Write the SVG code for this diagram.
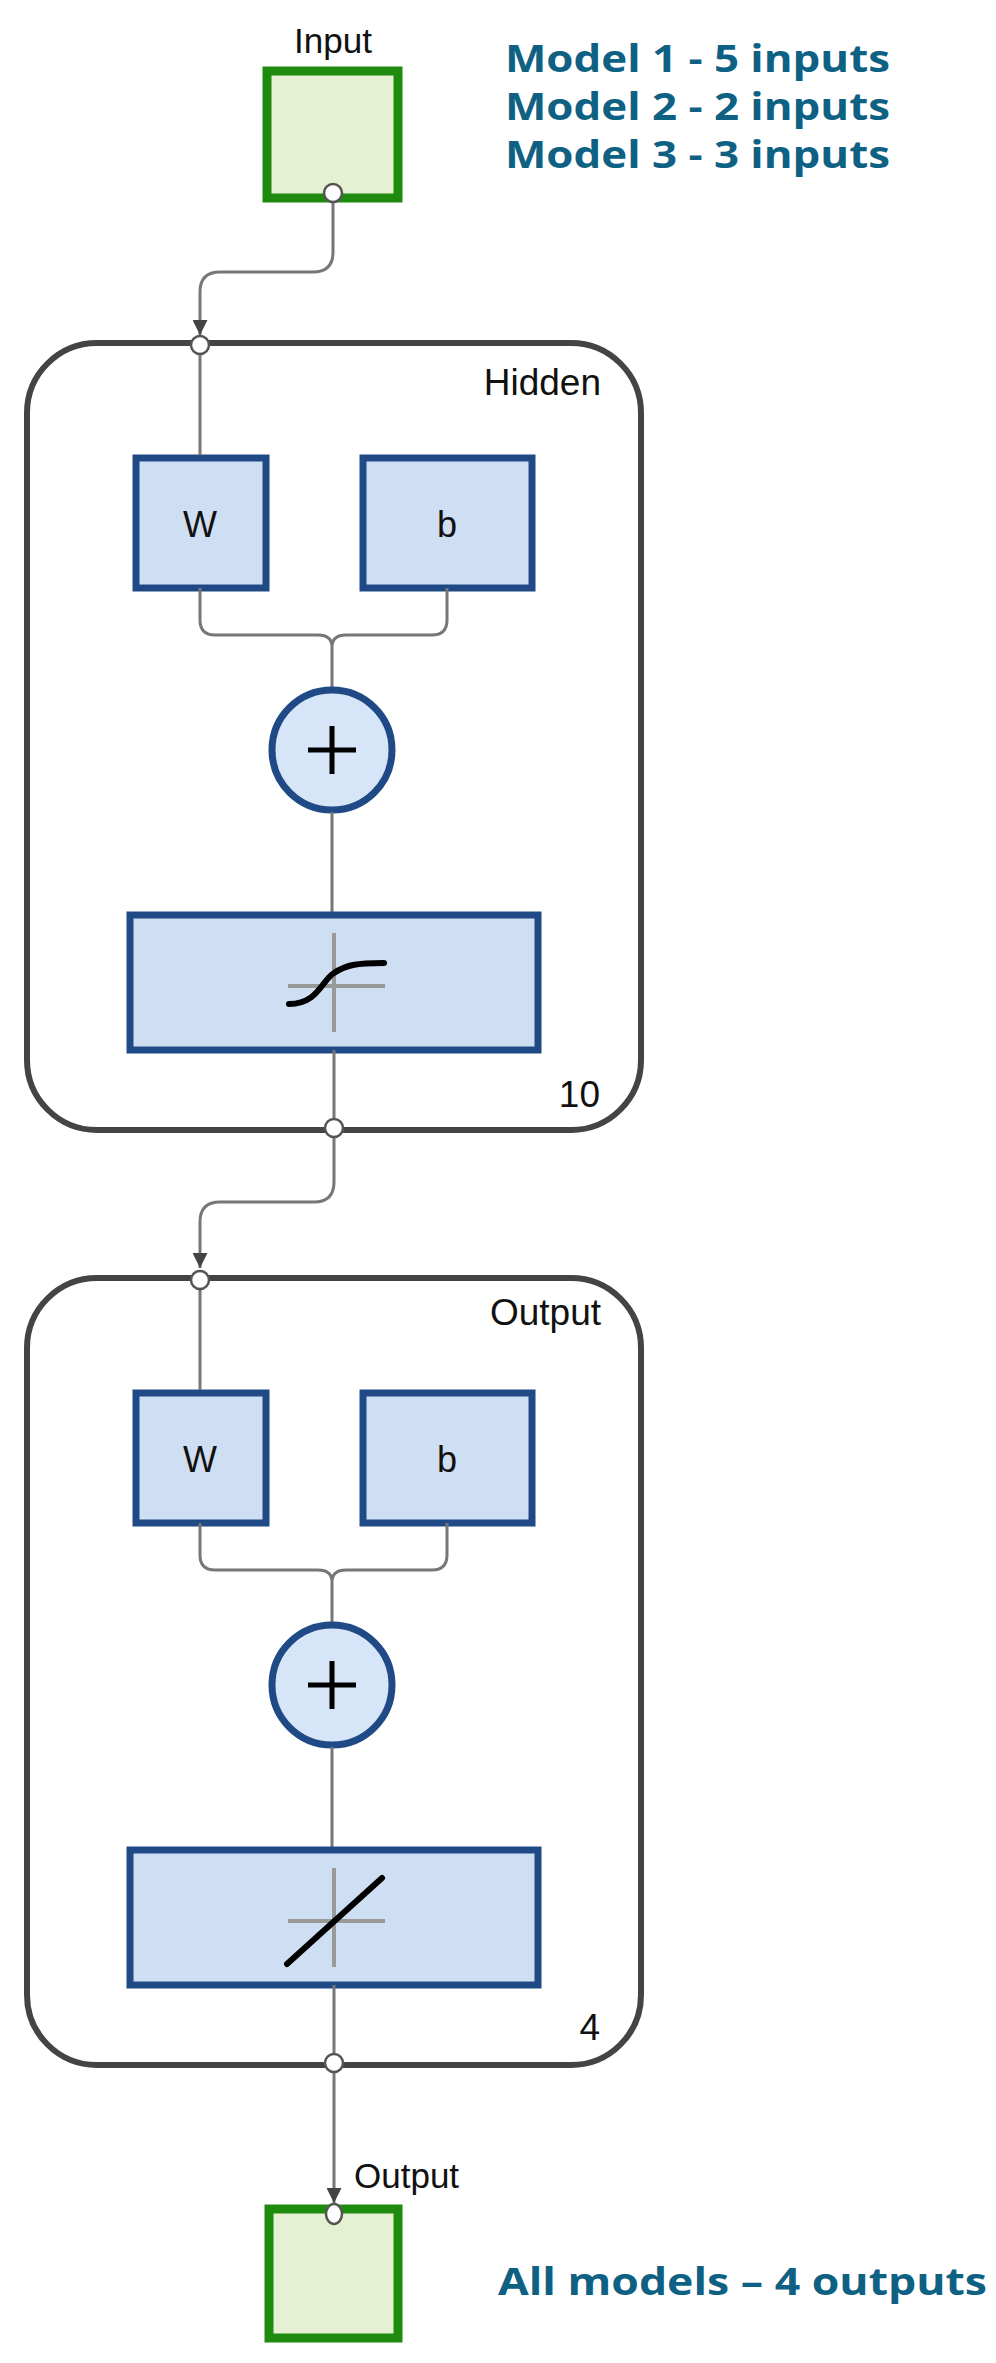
<svg xmlns="http://www.w3.org/2000/svg" width="996" height="2363" viewBox="0 0 996 2363">
<defs>
<style>
.lbl{font-family:"Liberation Sans",Arial,sans-serif;fill:#111}
.note{font-family:"Open Sans","Liberation Sans",sans-serif;font-weight:bold;fill:#0f6184}
.term{fill:#e6f1d4;stroke:#1e8a0e;stroke-width:9}
.layer{fill:#fff;stroke:#444;stroke-width:6}
.blk{fill:#cfdff3;stroke:#1f4a86;stroke-width:7}
.wire{fill:none;stroke:#777;stroke-width:3}
.port{fill:#fff;stroke:#555;stroke-width:2.5}
.axis{stroke:#999;stroke-width:4}
.fn{fill:none;stroke:#000;stroke-width:6;stroke-linecap:round}
</style>
<marker id="ah" viewBox="0 0 10 10" refX="10" refY="5" markerWidth="5" markerHeight="5" orient="auto" markerUnits="strokeWidth">
<path d="M0,0 L10,5 L0,10 z" fill="#444"/>
</marker>
<g id="layerTpl">
<rect class="layer" x="27" y="0" width="614" height="787" rx="70"/>
<rect class="blk" x="136" y="115" width="130" height="130"/>
<rect class="blk" x="363" y="115" width="169" height="130"/>
<text class="lbl" x="200" y="194" font-size="36" text-anchor="middle">W</text>
<text class="lbl" x="447" y="194" font-size="36" text-anchor="middle">b</text>
<path class="wire" d="M200,245 V277 Q200,292 215,292 H318 Q332,292 332,304 Q332,292 346,292 H432 Q447,292 447,277 V245"/>
<path class="wire" d="M200,10 V112"/>
<path class="wire" d="M332,304 V345"/>
<circle cx="332" cy="407" r="60" fill="#d6e5f7" stroke="#1f4a86" stroke-width="7"/>
<path d="M308,407 H356 M332,383 V431" stroke="#000" stroke-width="5"/>
<path class="wire" d="M332,469 V572"/>
<rect class="blk" x="130" y="572" width="408" height="135"/>
<path class="wire" d="M334,707 V775"/>
</g>
</defs>
<rect width="996" height="2363" fill="#fff"/>

<g id="connectors">
<path class="wire" d="M333,202 V252 Q333,272 313,272 H220 Q200,272 200,292 V335" marker-end="url(#ah)"/>
<path class="wire" d="M334,1138 V1182 Q334,1202 314,1202 H220 Q200,1202 200,1222 V1268" marker-end="url(#ah)"/>
<path class="wire" d="M334,2070 V2203" marker-end="url(#ah)"/>
</g>

<g id="input">
<text class="lbl" x="333" y="53" font-size="35" text-anchor="middle">Input</text>
<rect class="term" x="267" y="71" width="131" height="127"/>
<circle class="port" cx="333" cy="193" r="9"/>
</g>

<g id="hidden" transform="translate(0,343)">
<use href="#layerTpl"/>
<text class="lbl" x="601" y="52" font-size="37" text-anchor="end">Hidden</text>
<text class="lbl" x="600" y="764" font-size="37" text-anchor="end">10</text>
<line class="axis" x1="334" y1="590" x2="334" y2="689"/>
<line class="axis" x1="288" y1="643" x2="385" y2="643"/>
<path class="fn" d="M289,661 C318,661 322,637 334,630 C346,622 356,620 384,620"/>
<circle class="port" cx="200" cy="2" r="9"/>
<circle class="port" cx="334" cy="785" r="9"/>
</g>

<g id="output" transform="translate(0,1278)">
<use href="#layerTpl"/>
<text class="lbl" x="601" y="47" font-size="37" text-anchor="end">Output</text>
<text class="lbl" x="600" y="762" font-size="37" text-anchor="end">4</text>
<line class="axis" x1="334" y1="590" x2="334" y2="689"/>
<line class="axis" x1="288" y1="643" x2="385" y2="643"/>
<line class="fn" x1="287" y1="686" x2="382" y2="600"/>
<circle class="port" cx="200" cy="2" r="9"/>
<circle class="port" cx="334" cy="785" r="9"/>
</g>

<g id="outterm">
<text class="lbl" x="354" y="2188" font-size="35">Output</text>
<rect class="term" x="269" y="2209" width="129" height="129"/>
<ellipse class="port" cx="334" cy="2214" rx="8" ry="10"/>
</g>

<g id="notes">
<text class="note" x="505" y="72" font-size="38" textLength="385" lengthAdjust="spacingAndGlyphs">Model 1 - 5 inputs</text>
<text class="note" x="505" y="120" font-size="38" textLength="385" lengthAdjust="spacingAndGlyphs">Model 2 - 2 inputs</text>
<text class="note" x="505" y="168" font-size="38" textLength="385" lengthAdjust="spacingAndGlyphs">Model 3 - 3 inputs</text>
<text class="note" x="498" y="2295" font-size="38" textLength="489" lengthAdjust="spacingAndGlyphs">All models – 4 outputs</text>
</g>
</svg>
